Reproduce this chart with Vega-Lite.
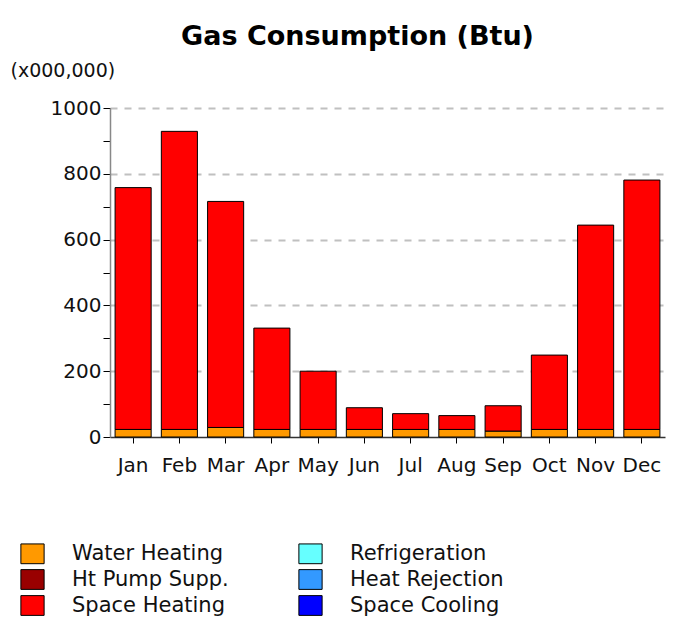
{
  "$schema": "https://vega.github.io/schema/vega-lite/v6.json",
  "autosize": {"type": "none"},
  "padding": {"left": 110, "top": 108, "right": 9, "bottom": 183},
  "width": 555,
  "height": 329,
  "background": "white",
  "config": {
    "font": "DejaVu Sans",
    "view": {"stroke": null}
  },
  "title": {
    "text": "Gas Consumption (Btu)",
    "font": "DejaVu Sans",
    "fontSize": 27,
    "fontWeight": "bold",
    "color": "black",
    "anchor": "middle",
    "dx": -30,
    "offset": 10
  },
  "data": {
    "values": [
      {"month": "Jan", "use": "Water Heating", "btu": 23},
      {"month": "Jan", "use": "Space Heating", "btu": 735},
      {"month": "Feb", "use": "Water Heating", "btu": 23},
      {"month": "Feb", "use": "Space Heating", "btu": 906},
      {"month": "Mar", "use": "Water Heating", "btu": 29},
      {"month": "Mar", "use": "Space Heating", "btu": 687},
      {"month": "Apr", "use": "Water Heating", "btu": 23},
      {"month": "Apr", "use": "Space Heating", "btu": 308},
      {"month": "May", "use": "Water Heating", "btu": 23},
      {"month": "May", "use": "Space Heating", "btu": 177},
      {"month": "Jun", "use": "Water Heating", "btu": 23},
      {"month": "Jun", "use": "Space Heating", "btu": 66},
      {"month": "Jul", "use": "Water Heating", "btu": 23},
      {"month": "Jul", "use": "Space Heating", "btu": 48},
      {"month": "Aug", "use": "Water Heating", "btu": 23},
      {"month": "Aug", "use": "Space Heating", "btu": 42},
      {"month": "Sep", "use": "Water Heating", "btu": 18},
      {"month": "Sep", "use": "Space Heating", "btu": 77},
      {"month": "Oct", "use": "Water Heating", "btu": 23},
      {"month": "Oct", "use": "Space Heating", "btu": 226},
      {"month": "Nov", "use": "Water Heating", "btu": 23},
      {"month": "Nov", "use": "Space Heating", "btu": 621},
      {"month": "Dec", "use": "Water Heating", "btu": 23},
      {"month": "Dec", "use": "Space Heating", "btu": 758}
    ]
  },
  "mark": {"type": "bar", "stroke": "black", "strokeWidth": 1},
  "encoding": {
    "x": {
      "field": "month",
      "type": "nominal",
      "sort": ["Jan","Feb","Mar","Apr","May","Jun","Jul","Aug","Sep","Oct","Nov","Dec"],
      "scale": {"paddingInner": 0.22, "paddingOuter": 0.11},
      "axis": {
        "title": null,
        "labelAngle": 0,
        "labelFontSize": 20,
        "labelColor": "#111",
        "labelPadding": 12,
        "tickSize": 6,
        "tickColor": "black",
        "domainColor": "#333",
        "domainWidth": 1.5
      }
    },
    "y": {
      "field": "btu",
      "type": "quantitative",
      "stack": "zero",
      "scale": {"domain": [0, 1000], "nice": false},
      "axis": {
        "title": "(x000,000)",
        "titleAngle": 0,
        "titleAlign": "left",
        "titleBaseline": "middle",
        "titleX": -100,
        "titleY": -38,
        "titleFontSize": 19,
        "titleFontWeight": "normal",
        "titleColor": "#111",
        "values": [0,100,200,300,400,500,600,700,800,900,1000],
        "labelExpr": "datum.value % 200 === 0 ? format(datum.value, 'd') : ''",
        "labelFontSize": 20,
        "labelColor": "#111",
        "labelPadding": 2,
        "tickSize": 7,
        "tickColor": "black",
        "domainColor": "#888",
        "domainWidth": 1.5,
        "grid": true,
        "gridColor": "#c0c0c0",
        "gridWidth": 2,
        "gridDash": [7, 7],
        "gridOpacity": {"condition": {"test": "datum.value % 200 === 0 && datum.value > 0", "value": 1}, "value": 0}
      }
    },
    "color": {
      "field": "use",
      "type": "nominal",
      "scale": {
        "domain": ["Water Heating","Ht Pump Supp.","Space Heating","Refrigeration","Heat Rejection","Space Cooling"],
        "range": ["#FF9900","#990000","#FF0000","#66FFFF","#3399FF","#0000FF"]
      },
      "legend": {
        "title": null,
        "orient": "none",
        "legendX": -90,
        "legendY": 433,
        "columns": 2,
        "columnPadding": 67,
        "rowPadding": 1,
        "padding": 0,
        "symbolType": "M-1,-0.85H1V0.85H-1Z",
        "symbolSize": 540,
        "symbolStrokeColor": "black",
        "symbolStrokeWidth": 1,
        "symbolOpacity": 1,
        "labelFontSize": 21,
        "labelColor": "#111",
        "labelOffset": 27,
        "labelLimit": 300
      }
    },
    "order": {"field": "use", "sort": "descending"}
  }
}
